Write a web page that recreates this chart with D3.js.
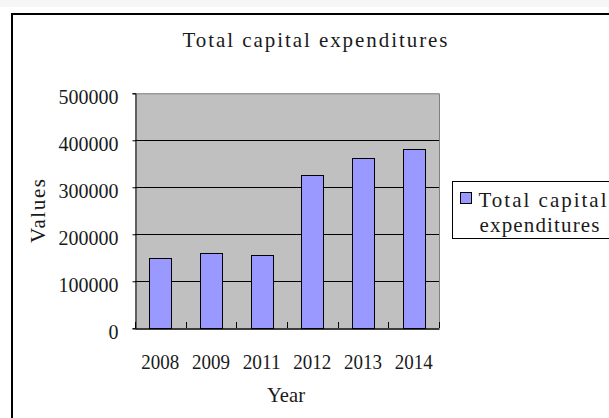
<!DOCTYPE html>
<html><head><meta charset="utf-8">
<script src="https://cdn.jsdelivr.net/npm/d3@7"></script>
<style>html,body{margin:0;padding:0;background:#fff;}svg{display:block;}</style>
</head><body>
<svg id="c" width="609" height="418"></svg>
<script>
const categories = ["2008","2009","2011","2012","2013","2014"];
const values = [148900, 159600, 156000, 325500, 362300, 380900];
const yTicks = [0,100000,200000,300000,400000,500000];
const title = "Total capital expenditures";
const seriesName = ["Total capital","expenditures"];
const xTitle = "Year", yTitle = "Values";

const FONT = "'Liberation Serif', 'DejaVu Serif', serif";
const TXT = "#1a1a1a";
const svg = d3.select("#c");
svg.append("rect").attr("x",0).attr("y",0).attr("width",609).attr("height",7).attr("fill","#f6f6f6");
svg.append("rect").attr("x",12).attr("y",14).attr("width",700).attr("height",500)
  .attr("fill","#fff").attr("stroke","#000").attr("stroke-width",2);

const L=135, R=439, T=93.3, B=328.3;
const x = d3.scaleBand().domain(categories).range([L,R]).paddingInner(0.57).paddingOuter(0.285);
const xb = d3.scaleBand().domain(categories).range([L,R]);
const y = d3.scaleLinear().domain([0,500000]).range([B,T]);

svg.append("rect").attr("x",L).attr("y",T).attr("width",R-L).attr("height",B-T).attr("fill","#c0c0c0");
svg.append("path").attr("d",`M${L},${T+0.5}H${R+0.5}V${B}`).attr("fill","none").attr("stroke","#808080").attr("stroke-width",1);
svg.append("g").selectAll("line").data(yTicks.filter(d=>d>0&&d<500000)).join("line")
  .attr("x1",L).attr("x2",R).attr("y1",d=>Math.round(y(d))+0.5).attr("y2",d=>Math.round(y(d))+0.5)
  .attr("stroke","#000").attr("stroke-width",1);
svg.append("g").selectAll("rect").data(values).join("rect")
  .attr("x",(d,i)=>Math.round(x(categories[i]))+0.5).attr("width",Math.round(x.bandwidth()))
  .attr("y",d=>Math.round(y(d))+0.5).attr("height",d=>Math.round(B)-Math.round(y(d)))
  .attr("fill","#9999ff").attr("stroke","#000").attr("stroke-width",1);
const ya = svg.append("g").attr("transform",`translate(${L+0.5},0)`)
  .call(d3.axisLeft(y).tickValues(yTicks).tickSize(3).tickFormat(d3.format("d")));
ya.select(".domain").attr("stroke","#000");
ya.selectAll(".tick line").attr("stroke","#000");
ya.selectAll(".tick text").attr("x",-17).attr("dy","10").attr("font-family",FONT).attr("font-size",20).attr("fill",TXT)
  .attr("textLength",d=>String(d).length*10).attr("lengthAdjust","spacingAndGlyphs");
const xa = svg.append("g").attr("transform",`translate(0,${Math.round(B)+0.5})`)
  .call(d3.axisBottom(xb).tickSize(0).tickSizeOuter(0));
xa.select(".domain").attr("stroke","#000").attr("stroke-width",1.5);
xa.selectAll(".tick text").attr("y",40).attr("dy",0).attr("font-family",FONT).attr("font-size",22).attr("fill",TXT)
  .attr("textLength",38).attr("lengthAdjust","spacingAndGlyphs");
svg.append("g").selectAll("line").data(categories.map(c=>xb(c)).concat([R])).join("line")
  .attr("x1",d=>Math.round(d)+0.5).attr("x2",d=>Math.round(d)+0.5)
  .attr("y1",Math.round(B)).attr("y2",Math.round(B)-6).attr("stroke","#000");

svg.append("text").attr("x",315).attr("y",47).attr("text-anchor","middle").attr("font-family",FONT).attr("font-size",21).attr("fill",TXT)
  .attr("textLength",265).attr("lengthAdjust","spacing").text(title);
svg.append("text").attr("x",286).attr("y",401.5).attr("text-anchor","middle").attr("font-family",FONT).attr("font-size",22).attr("fill",TXT)
  .attr("textLength",38).attr("lengthAdjust","spacingAndGlyphs").text(xTitle);
svg.append("text").attr("transform","translate(45,211) rotate(-90)").attr("text-anchor","middle").attr("font-family",FONT).attr("font-size",21).attr("fill",TXT)
  .attr("textLength",64).attr("lengthAdjust","spacing").text(yTitle);

const lg = svg.append("g");
lg.append("rect").attr("x",452.5).attr("y",181.5).attr("width",200).attr("height",57).attr("fill","#fff").attr("stroke","#000");
lg.append("rect").attr("x",460.5).attr("y",192.5).attr("width",11).attr("height",11).attr("fill","#9999ff").attr("stroke","#000");
lg.append("text").attr("x",478.5).attr("y",206.5).attr("font-family",FONT).attr("font-size",21).attr("fill",TXT)
  .attr("textLength",128).attr("lengthAdjust","spacing").text(seriesName[0]);
lg.append("text").attr("x",479.5).attr("y",231.5).attr("font-family",FONT).attr("font-size",21).attr("fill",TXT)
  .attr("textLength",120).attr("lengthAdjust","spacing").text(seriesName[1]);
</script>
</body></html>
